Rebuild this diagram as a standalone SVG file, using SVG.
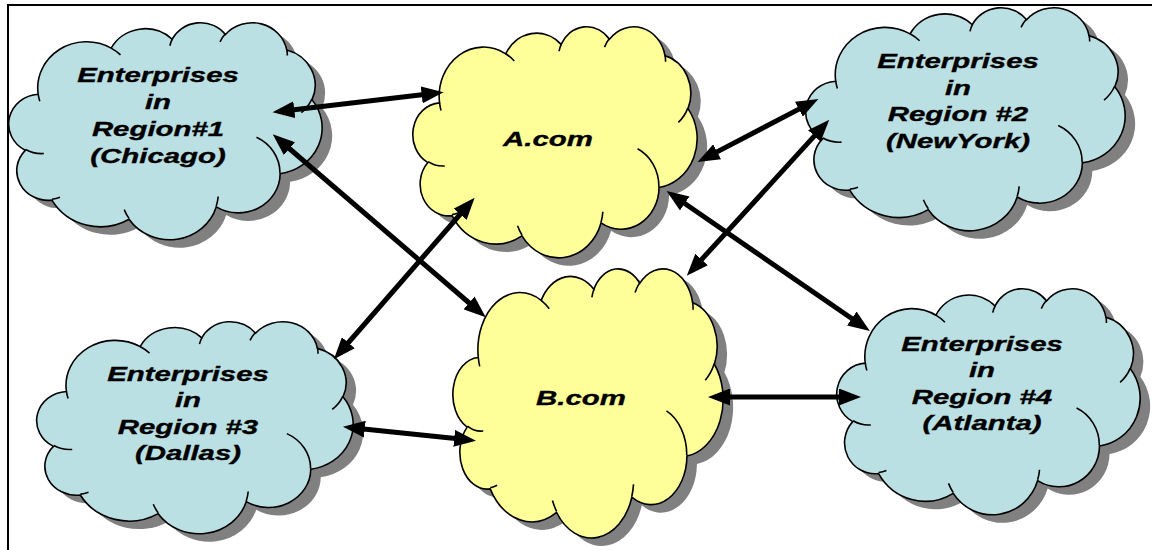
<svg xmlns="http://www.w3.org/2000/svg" xmlns:xlink="http://www.w3.org/1999/xlink" width="1152" height="550" viewBox="0 0 1152 550">
  <style>
    .shadow { fill: #808080; stroke: none; }
    .blue { fill: #BBE0E3; stroke: #000; }
    .yellow { fill: #FFFF99; stroke: #000; }
    .crease { fill: none; stroke: #000; }
    .label { font-family: "Liberation Sans", Arial, sans-serif; font-size: 21px; font-weight: bold; font-style: italic; fill: #000; stroke: #000; stroke-width: 0.35; text-anchor: middle; }
    .conn { stroke: #000; stroke-width: 5; fill: none; marker-start: url(#ah); marker-end: url(#ah); }
  </style>
  <defs>
    <!-- cloud outline in a 432 x 432 unit box -->
    <path id="cloudShape" vector-effect="non-scaling-stroke" stroke-width="1.6" d="M39.00,143.70 A67.53,91.90 0 0 1 140.06,52.02 A53.33,72.67 0 0 1 224.58,34.32 A43.65,59.45 0 0 1 298.34,24.78 A48.57,65.95 0 0 1 383.19,55.74 A53.33,72.73 0 0 1 418.20,154.57 A67.75,92.20 0 0 1 374.06,302.00 A57.85,78.67 0 0 1 285.57,368.11 A67.52,92.15 0 0 1 164.82,392.63 A77.20,105.43 0 0 1 58.06,354.68 A43.60,59.18 0 0 1 21.13,255.48 A43.45,59.45 0 0 1 39.00,143.70 Z"/>
    <!-- inner lobe creases -->
    <path id="cloudCreases" vector-effect="non-scaling-stroke" stroke-width="1.6" d="M46.93,261.77 A43.45,59.45 0 0 1 21.59,253.79 M69.28,348.99 A43.60,59.18 0 0 1 58.19,352.81 M164.78,390.90 A67.52,92.15 0 0 1 158.10,373.48 M288.27,347.51 A67.52,92.15 0 0 1 285.60,366.60 M341.29,229.54 A57.85,78.67 0 0 1 373.81,300.90 M417.98,153.54 A53.33,72.73 0 0 1 403.50,180.30 M383.24,54.26 A48.57,65.95 0 0 1 384.00,66.90 M290.78,39.52 A48.57,65.95 0 0 1 298.20,23.40 M221.41,47.20 A43.65,59.45 0 0 1 225.00,33.31 M140.00,51.92 A67.53,91.90 0 0 1 153.01,65.42 M41.27,157.89 A67.53,91.90 0 0 1 39.00,143.71"/>
    <marker id="ah" viewBox="0 0 22 17" refX="11" refY="8.5" markerWidth="22" markerHeight="17" markerUnits="userSpaceOnUse" orient="auto-start-reverse">
      <path d="M0,0 L22,8.5 L0,17 Z" fill="#000"/>
    </marker>
  </defs>

  <rect width="1152" height="550" fill="#fff"/>
  <!-- page frame -->
  <path d="M8,552 L8,5 L1154,5" fill="none" stroke="#000" stroke-width="2"/>

  <g id="region1">
    <use xlink:href="#cloudShape" class="shadow" transform="translate(20,30) scale(0.7222,0.5023)"/>
    <use xlink:href="#cloudShape" class="blue" transform="translate(10,22) scale(0.7222,0.5023)"/>
    <use xlink:href="#cloudCreases" class="crease" transform="translate(10,22) scale(0.7222,0.5023)"/>
    <g transform="translate(158,0) scale(1.4,1)">
      <text class="label" x="0" y="82.5">Enterprises</text>
      <text class="label" x="0" y="109.5">in</text>
      <text class="label" x="0" y="136.5">Region#1</text>
      <text class="label" x="0" y="163.5">(Chicago)</text>
    </g>
  </g>

  <g id="acom">
    <use xlink:href="#cloudShape" class="shadow" transform="translate(424,34) scale(0.6551,0.5347)"/>
    <use xlink:href="#cloudShape" class="yellow" transform="translate(414,26) scale(0.6551,0.5347)"/>
    <use xlink:href="#cloudCreases" class="crease" transform="translate(414,26) scale(0.6551,0.5347)"/>
    <g transform="translate(548,0) scale(1.4,1)">
      <text class="label" x="0" y="146">A.com</text>
    </g>
  </g>

  <g id="region2">
    <use xlink:href="#cloudShape" class="shadow" transform="translate(817,15) scale(0.7361,0.5162)"/>
    <use xlink:href="#cloudShape" class="blue" transform="translate(807,7) scale(0.7361,0.5162)"/>
    <use xlink:href="#cloudCreases" class="crease" transform="translate(807,7) scale(0.7361,0.5162)"/>
    <g transform="translate(958,0) scale(1.4,1)">
      <text class="label" x="0" y="68.5">Enterprises</text>
      <text class="label" x="0" y="95">in</text>
      <text class="label" x="0" y="121.5">Region #2</text>
      <text class="label" x="0" y="148">(NewYork)</text>
    </g>
  </g>

  <g id="bcom">
    <use xlink:href="#cloudShape" class="shadow" transform="translate(464,276) scale(0.6227,0.6227)"/>
    <use xlink:href="#cloudShape" class="yellow" transform="translate(454,268) scale(0.6227,0.6227)"/>
    <use xlink:href="#cloudCreases" class="crease" transform="translate(454,268) scale(0.6227,0.6227)"/>
    <g transform="translate(581,0) scale(1.4,1)">
      <text class="label" x="0" y="405.5">B.com</text>
    </g>
  </g>

  <g id="region3">
    <use xlink:href="#cloudShape" class="shadow" transform="translate(48,329) scale(0.7292,0.4907)"/>
    <use xlink:href="#cloudShape" class="blue" transform="translate(38,321) scale(0.7292,0.4907)"/>
    <use xlink:href="#cloudCreases" class="crease" transform="translate(38,321) scale(0.7292,0.4907)"/>
    <g transform="translate(188,0) scale(1.4,1)">
      <text class="label" x="0" y="381">Enterprises</text>
      <text class="label" x="0" y="407.5">in</text>
      <text class="label" x="0" y="434">Region #3</text>
      <text class="label" x="0" y="460">(Dallas)</text>
    </g>
  </g>

  <g id="region4">
    <use xlink:href="#cloudShape" class="shadow" transform="translate(848,296) scale(0.6991,0.5231)"/>
    <use xlink:href="#cloudShape" class="blue" transform="translate(838,288) scale(0.6991,0.5231)"/>
    <use xlink:href="#cloudCreases" class="crease" transform="translate(838,288) scale(0.6991,0.5231)"/>
    <g transform="translate(982,0) scale(1.4,1)">
      <text class="label" x="0" y="351.5">Enterprises</text>
      <text class="label" x="0" y="377.5">in</text>
      <text class="label" x="0" y="404">Region #4</text>
      <text class="label" x="0" y="430">(Atlanta)</text>
    </g>
  </g>

  <!-- double-headed links -->
  <g id="connectors">
    <line class="conn" x1="283.4" y1="110.9" x2="432.6" y2="93.6"/>
    <line class="conn" x1="281.1" y1="141.5" x2="477.4" y2="310.0"/>
    <line class="conn" x1="467.4" y1="206.0" x2="341.1" y2="351.0"/>
    <line class="conn" x1="707.4" y1="156.9" x2="808.6" y2="104.1"/>
    <line class="conn" x1="821.8" y1="127.9" x2="694.2" y2="267.6"/>
    <line class="conn" x1="675.7" y1="197.2" x2="860.8" y2="324.8"/>
    <line class="conn" x1="353.9" y1="428.0" x2="465.1" y2="439.5"/>
    <line class="conn" x1="719" y1="397" x2="850" y2="397"/>
  </g>
</svg>
